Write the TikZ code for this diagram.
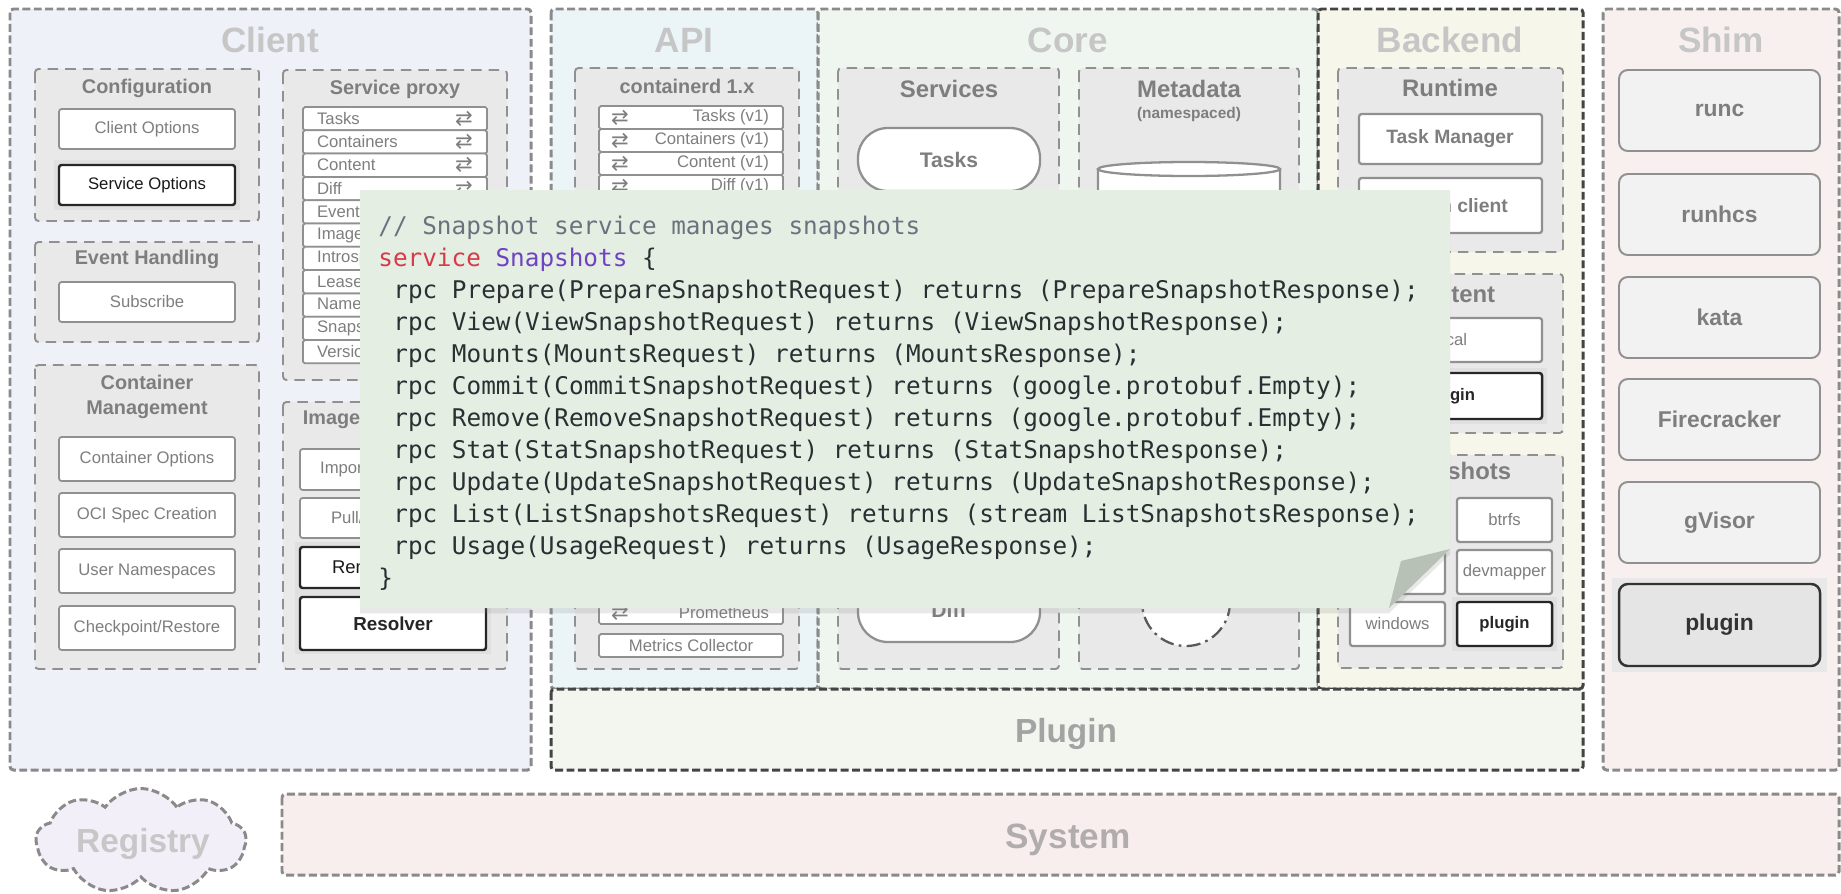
\documentclass[tikz,border=0pt]{standalone}
\usepackage{fontspec}
\setmainfont{Liberation Sans}
\newfontfamily\codefont{DejaVu Sans Mono}
\newfontfamily\symfont{DejaVu Sans}
\usetikzlibrary{shapes.symbols,shadows}

\definecolor{clientbg}{HTML}{EEF1F8}
\definecolor{apibg}{HTML}{EBF5F8}
\definecolor{corebg}{HTML}{EFF6EF}
\definecolor{backendbg}{HTML}{F6F7EA}
\definecolor{pluginbg}{HTML}{F3F5EF}
\definecolor{shimbg}{HTML}{F8F0EE}
\definecolor{systembg}{HTML}{F8EEEE}
\definecolor{registrybg}{HTML}{F3EFF8}
\definecolor{groupbg}{HTML}{E9E9E9}
\definecolor{dashgray}{HTML}{8A8A8A}
\definecolor{dashdark}{HTML}{444444}
\definecolor{titlegray}{HTML}{C6C6C6}
\definecolor{labelgray}{HTML}{7E7E7E}
\definecolor{boxgray}{HTML}{909090}
\definecolor{notebg}{HTML}{E5EEE3}
\definecolor{notefold}{HTML}{B7C1B5}
\definecolor{cmtgray}{HTML}{6A737D}
\definecolor{kwred}{HTML}{D73A49}
\definecolor{kwpurple}{HTML}{6F42C1}
\definecolor{codedark}{HTML}{2B2F33}

\begin{document}
\begin{tikzpicture}[%
      x=0.02cm, y=-0.02cm,
      layerbox/.style={draw=dashgray, line width=1.7pt, dash pattern=on 4.5pt off 2pt, rounded corners=2pt},
      darklayer/.style={layerbox, draw=dashdark},
      groupbox/.style={draw=boxgray, fill=groupbg, line width=1.1pt, dash pattern=on 6pt off 4pt, rounded corners=2pt},
      itembox/.style={draw=boxgray, fill=white, line width=1pt, rounded corners=1.5pt},
      hitembox/.style={draw=black!85, fill=white, line width=1.4pt, rounded corners=1.5pt},
      pill/.style={draw=boxgray, fill=white, line width=1.3pt, rounded corners=17pt},
      halo/.style={fill=black!12},
      layertitle/.style={font=\fontsize{20}{24}\selectfont\bfseries, text=titlegray},
      grouptitle/.style={font=\fontsize{11.3}{13.5}\selectfont\bfseries, text=labelgray},
      coltitle/.style={font=\fontsize{13.6}{16}\selectfont\bfseries, text=labelgray},
      itemtext/.style={font=\fontsize{9.5}{11}\selectfont, text=labelgray, inner sep=1pt},
      hitemtext/.style={font=\fontsize{9.5}{11}\selectfont\bfseries, text=black!85, inner sep=1pt},
      twoway/.style={font=\symfont\fontsize{12}{12}\selectfont, text=labelgray, inner sep=0pt},
      shimbox/.style={draw=boxgray, fill=black!5, line width=1.1pt, rounded corners=5pt},
      shimtext/.style={font=\fontsize{13}{15}\selectfont\bfseries, text=labelgray},
      codeline/.style={font=\codefont\fontsize{13.85}{16}\selectfont, text=codedark, anchor=base west, inner sep=0pt},
      ]
      \useasboundingbox (0,0) rectangle (1841,893);

      % layers
      \draw [layerbox, fill=clientbg] (10,9) rectangle (531,770);
      \draw [layerbox, fill=apibg] (551,9) rectangle (818,689);
      \draw [layerbox, fill=corebg] (818,9) rectangle (1318,689);
      \draw [darklayer, fill=backendbg] (1318,9) rectangle (1583,689);
      \draw [darklayer, fill=pluginbg] (551,689) rectangle (1583,770);
      \draw [layerbox, fill=shimbg] (1603,9) rectangle (1839,770);
      \draw [layerbox, fill=systembg] (282,794) rectangle (1839,875);
      \node [cloud, cloud puffs=9, cloud puff arc=110, aspect=2, draw=dashgray, fill=registrybg, line width=1.7pt,
             dash pattern=on 4.5pt off 2pt, minimum width=4.2cm, minimum height=2.1cm, inner sep=0pt]
             (registry) at (141,841) {};

      \node [layertitle] (client) at (270,40) {Client};
      \node [layertitle] (api) at (684,40) {API};
      \node [layertitle] (core) at (1068,40) {Core};
      \node [layertitle] (backend) at (1450,40) {Backend};
      \node [layertitle] (shim) at (1721,40) {Shim};
      \node [layertitle, text=black!36, font=\fontsize{19}{23}\selectfont\bfseries] (plugin) at (1066,734) {Plugin};
      \node [layertitle, text=black!20!systembg!80!black!80] (system) at (1068,840) {System};
      \node [layertitle, text=black!22, font=\fontsize{19}{23}\selectfont\bfseries] (regtext) at (143,844) {Registry};

      % client
      \draw [groupbox] (35,69) rectangle (259,221);
      \node [grouptitle] (config) at (147,88) {Configuration};
      \draw [itembox] (59,109) rectangle (235,149);
      \node [itemtext] (clientopts) at (147,129) {Client Options};
      \fill [halo] (54,160) rectangle (240,210);
      \draw [hitembox] (59,165) rectangle (235,205);
      \node [itemtext, text=black!90] (serviceopts) at (147,185) {Service Options};

      \draw [groupbox] (35,242) rectangle (259,342);
      \node [grouptitle] (events) at (147,259) {Event Handling};
      \draw [itembox] (59,282) rectangle (235,322);
      \node [itemtext] (subscribe) at (147,302) {Subscribe};

      \draw [groupbox] (35,365) rectangle (259,669);
      \node [grouptitle, align=center, font=\fontsize{11.3}{14.2}\selectfont\bfseries] (containermgmt) at (147,397) {Container\\Management};
      \foreach \name/\y in {Container Options/437, OCI Spec Creation/493, User Namespaces/549, {Checkpoint/Restore}/606} {
        \draw [itembox] (59,\y) rectangle (235,{\y+44});
        \node [itemtext] (cm-\y) at (147,{\y+22}) {\name};
      }

      \draw [groupbox] (283,70) rectangle (507,380);
      \node [grouptitle] (proxy) at (395,89) {Service proxy};
      \foreach \name [count=\i from 0] in {Tasks,Containers,Content,Diff,Events,Images,Introspection,Leases,Namespaces,Snapshots,Version} {
        \draw [itembox, rounded corners=1pt] (303,{107+23.3*\i}) rectangle (487,{130.3+23.3*\i});
        \node [itemtext, anchor=west] (proxy\i) at (315,{118.6+23.3*\i}) {\name};
        \node [twoway] (proxyarrow\i) at (464,{118.6+23.3*\i}) {⇄};
      }

      \draw [groupbox] (283,402) rectangle (507,669);
      \node [grouptitle] (imagemgmt) at (395,420) {Image Management};
      \draw [itembox] (300,449) rectangle (486,490);
      \node [itemtext, anchor=west] (import) at (318,469.5) {Import/Export};
      \draw [itembox] (300,498) rectangle (486,538);
      \node [itemtext, anchor=west] (pull) at (329,518) {Pull/Push};
      \fill [halo] (295,542) rectangle (491,654);
      \draw [hitembox] (300,547) rectangle (486,588);
      \node [itemtext, anchor=west, text=black!90, font=\fontsize{10.5}{12}\selectfont] (remotes) at (330,567.5) {Remotes};
      \draw [hitembox] (300,597) rectangle (486,650);
      \node [hitemtext, font=\fontsize{10.7}{12}\selectfont\bfseries] (resolver) at (393,623.5) {Resolver};

      % api
      \draw [groupbox] (575,68) rectangle (799,669);
      \node [grouptitle] (containerd) at (687,86) {containerd 1.x};
      \foreach \name [count=\i from 0] in {Tasks,Containers,Content,Diff} {
        \draw [itembox, rounded corners=1pt] (599,{106+23*\i}) rectangle (783,{129+23*\i});
        \node [twoway] (apiarrow\i) at (620,{117.5+23*\i}) {⇄};
        \node [itemtext, anchor=east] (api\i) at (771,{117.5+23*\i}) {\name{} (v1)};
      }
      \draw [itembox, rounded corners=1pt] (599,602) rectangle (783,624);
      \node [twoway] (promarrow) at (620,613) {⇄};
      \node [itemtext, anchor=east] (prometheus) at (771,613) {Prometheus};
      \draw [itembox, rounded corners=1pt] (599,634) rectangle (783,657);
      \node [itemtext] (metrics) at (691,645.5) {Metrics Collector};

      % core
      \draw [groupbox] (838,68) rectangle (1059,669);
      \node [coltitle] (services) at (949,89) {Services};
      \draw [pill] (858,128) rectangle (1040,191);
      \node [coltitle, font=\fontsize{12}{14}\selectfont\bfseries] (tasks) at (949,160) {Tasks};
      \draw [pill] (858,579) rectangle (1040,642);
      \node [coltitle, font=\fontsize{12}{14}\selectfont\bfseries] (diff) at (949,610) {Diff};

      \draw [groupbox] (1079,68) rectangle (1299,669);
      \node [coltitle] (metadata) at (1189,89) {Metadata};
      \node [grouptitle, font=\fontsize{8.8}{10}\selectfont\bfseries] (namespaced) at (1189,114) {(namespaced)};
      \filldraw [draw=boxgray, fill=white, line width=1.3pt] (1098,169) -- (1098,420)
            arc [start angle=180, end angle=0, x radius=91, y radius=7] -- (1280,169);
      \draw [draw=boxgray, fill=white, line width=1.3pt] (1189,169) ellipse [x radius=91, y radius=7];
      \draw [draw=black!65, fill=white, line width=1.3pt, dash pattern=on 8pt off 3pt on 1.5pt off 3pt] (1186,602) circle [radius=44];

      % backend
      \draw [groupbox] (1338,68) rectangle (1563,252);
      \node [coltitle] (runtime) at (1450,88) {Runtime};
      \draw [itembox, line width=1.3pt] (1359,114) rectangle (1542,164);
      \node [grouptitle, font=\fontsize{11}{13}\selectfont\bfseries] (taskmgr) at (1450,139) {Task Manager};
      \draw [itembox, line width=1.3pt] (1359,178) rectangle (1542,233);
      \node [grouptitle, font=\fontsize{11}{13}\selectfont\bfseries, anchor=east] (shimclient) at (1514,206) {Shim client};

      \draw [groupbox] (1338,274) rectangle (1563,433);
      \node [coltitle] (content) at (1450,294) {Content};
      \draw [itembox, line width=1.3pt] (1359,318) rectangle (1542,362);
      \node [itemtext] (local) at (1450,340) {local};
      \fill [halo] (1354,368) rectangle (1547,424);
      \draw [hitembox] (1359,373) rectangle (1542,419);
      \node [hitemtext] (contentplugin) at (1450,396) {plugin};

      \draw [groupbox] (1338,455) rectangle (1563,668);
      \node [coltitle] (snapshots) at (1450,473) {Snapshots};
      \foreach \name/\x/\y in {native/1350/550, windows/1350/602, btrfs/1457/498, devmapper/1457/550} {
        \draw [itembox, line width=1.3pt] (\x,\y) rectangle ({\x+95},{\y+44});
        \node [itemtext] (snap-\name) at ({\x+47.5},{\y+22}) {\name};
      }
      \fill [halo] (1452,597) rectangle (1557,651);
      \draw [hitembox] (1457,602) rectangle (1552,646);
      \node [hitemtext] (snapplugin) at (1504.5,624) {plugin};

      % shim
      \foreach \name/\y in {runc/70, runhcs/174, kata/277, Firecracker/379, gVisor/482} {
        \draw [shimbox] (1619,\y) rectangle (1820,{\y+81});
        \node [shimtext] (shim-\name) at (1719.5,{\y+40.5}) {\name};
      }
      \fill [fill=black!20!shimbg!85!black!25] (1612,578) rectangle (1827,672);
      \draw [shimbox, fill=black!10, draw=black!80, line width=1.4pt] (1619,584) rectangle (1820,666);
      \node [shimtext, text=black!80] (shimplugin) at (1719.5,625) {plugin};

      % snapshot service note
      \path [fill=notebg, drop shadow={shadow xshift=0pt, shadow yshift=-3pt, opacity=0.18}]
            (360,190) -- (1450,190) -- (1450,549) -- (1389,608) -- (360,608) -- cycle;
      \fill [notefold] (1450,549) -- (1401,561) -- (1389,608) -- cycle;

      \node [codeline, text=cmtgray] (comment) at (378,234) {// Snapshot service manages snapshots};
      \node [codeline] (service) at (378,266) {\textcolor{kwred}{service} \textcolor{kwpurple}{Snapshots} \{};
      \node [codeline] (prepare) at (393,298) {rpc Prepare(PrepareSnapshotRequest) returns (PrepareSnapshotResponse);};
      \node [codeline] (view) at (393,330) {rpc View(ViewSnapshotRequest) returns (ViewSnapshotResponse);};
      \node [codeline] (mounts) at (393,362) {rpc Mounts(MountsRequest) returns (MountsResponse);};
      \node [codeline] (commit) at (393,394) {rpc Commit(CommitSnapshotRequest) returns (google.protobuf.Empty);};
      \node [codeline] (remove) at (393,426) {rpc Remove(RemoveSnapshotRequest) returns (google.protobuf.Empty);};
      \node [codeline] (stat) at (393,458) {rpc Stat(StatSnapshotRequest) returns (StatSnapshotResponse);};
      \node [codeline] (update) at (393,490) {rpc Update(UpdateSnapshotRequest) returns (UpdateSnapshotResponse);};
      \node [codeline] (list) at (393,522) {rpc List(ListSnapshotsRequest) returns (stream ListSnapshotsResponse);};
      \node [codeline] (usage) at (393,554) {rpc Usage(UsageRequest) returns (UsageResponse);};
      \node [codeline] (close) at (378,586) {\}};
\end{tikzpicture}
\end{document}
